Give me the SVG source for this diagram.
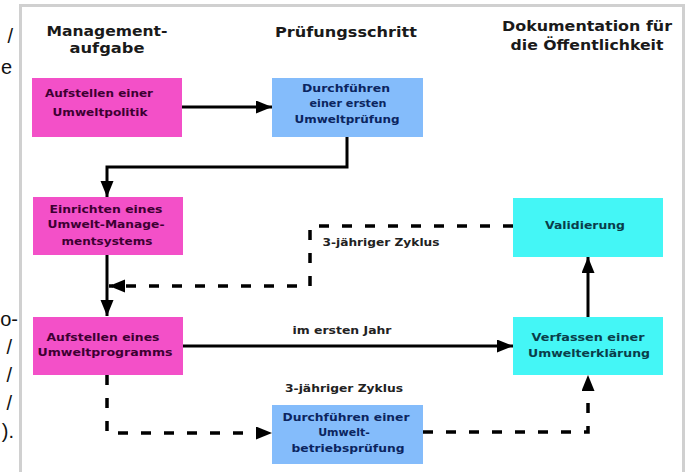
<svg xmlns="http://www.w3.org/2000/svg" width="690" height="472" viewBox="0 0 690 472">
<style>
.frame{fill:none;stroke:#d0d0d0;stroke-width:3}
.frag{font-family:"Liberation Sans",Arial,sans-serif;font-size:20px;fill:#111;text-anchor:end}
.hdr{font-family:"DejaVu Sans",sans-serif;font-weight:bold;font-size:14.5px;fill:#1a1a1a;text-anchor:middle}
.bt{font-family:"DejaVu Sans",sans-serif;font-weight:bold;font-size:11px;text-anchor:middle}
.pink rect{fill:#f350c8}
.pink text{fill:#3d0032}
.blue rect{fill:#84bcfb}
.blue text{fill:#0b2560}
.cyan rect{fill:#44f6f6}
.cyan text{fill:#0a3d4a}
.lbl{font-family:"DejaVu Sans",sans-serif;font-weight:bold;font-size:10.5px;fill:#222;text-anchor:middle}
.solid{fill:none;stroke:#000;stroke-width:3}
.dash{fill:none;stroke:#000;stroke-width:3.5;stroke-dasharray:10 13}
</style>
<defs>
<marker id="ah" markerUnits="userSpaceOnUse" markerWidth="17" markerHeight="14" refX="16" refY="6.5" orient="auto">
<path d="M0,0 L16,6.5 L0,13 z" fill="#000"/>
</marker>
</defs>
<rect width="690" height="472" fill="#fff"/>
<text class="frag" x="13" y="43">/</text>
<text class="frag" x="12" y="74">e</text>
<text class="frag" x="18" y="326">o-</text>
<text class="frag" x="12" y="354">/</text>
<text class="frag" x="12" y="382">/</text>
<text class="frag" x="12" y="410">/</text>
<text class="frag" x="14" y="438">).</text>
<rect class="frame" x="20.5" y="5.5" width="663" height="500"/>
<g id="headers">
<text class="hdr" x="107" y="36" textLength="121" lengthAdjust="spacingAndGlyphs">Management-</text>
<text class="hdr" x="107" y="53" textLength="75" lengthAdjust="spacingAndGlyphs">aufgabe</text>
<text class="hdr" x="346" y="37" textLength="142" lengthAdjust="spacingAndGlyphs">Prüfungsschritt</text>
<text class="hdr" x="587" y="31" textLength="170" lengthAdjust="spacingAndGlyphs">Dokumentation für</text>
<text class="hdr" x="587" y="50" textLength="153" lengthAdjust="spacingAndGlyphs">die Öffentlichkeit</text>
</g>
<g id="connectors">
<path class="solid" d="M182,107 H272" marker-end="url(#ah)"/>
<path class="solid" d="M347,137 V167 H107 V197" marker-end="url(#ah)"/>
<path class="solid" d="M107,255 V316" marker-end="url(#ah)"/>
<path class="dash" d="M513,226 H310 V286 H109" marker-end="url(#ah)"/>
<path class="solid" d="M183,346 H513" marker-end="url(#ah)"/>
<path class="dash" d="M107,375 V433 H272" marker-end="url(#ah)"/>
<path class="dash" d="M423,432 H588 V375" marker-end="url(#ah)"/>
<path class="solid" d="M588,317 V257" marker-end="url(#ah)"/>
<text class="lbl" x="381" y="246" textLength="117" lengthAdjust="spacingAndGlyphs">3-jähriger Zyklus</text>
<text class="lbl" x="342" y="334" textLength="99" lengthAdjust="spacingAndGlyphs">im ersten Jahr</text>
<text class="lbl" x="344" y="392" textLength="118" lengthAdjust="spacingAndGlyphs">3-jähriger Zyklus</text>
</g>
<g id="n1" class="pink">
<rect x="32" y="78" width="150" height="59"/>
<text class="bt" x="99" y="97" textLength="108" lengthAdjust="spacingAndGlyphs">Aufstellen einer</text>
<text class="bt" x="100" y="116" textLength="95" lengthAdjust="spacingAndGlyphs">Umweltpolitik</text>
</g>
<g id="n2" class="blue">
<rect x="272" y="78" width="151" height="59"/>
<text class="bt" x="346" y="92" textLength="88" lengthAdjust="spacingAndGlyphs">Durchführen</text>
<text class="bt" x="348" y="107" textLength="77" lengthAdjust="spacingAndGlyphs">einer ersten</text>
<text class="bt" x="347" y="123" textLength="105" lengthAdjust="spacingAndGlyphs">Umweltprüfung</text>
</g>
<g id="n3" class="pink">
<rect x="33" y="197" width="150" height="58"/>
<text class="bt" x="106" y="213" textLength="113" lengthAdjust="spacingAndGlyphs">Einrichten eines</text>
<text class="bt" x="106" y="228" textLength="117" lengthAdjust="spacingAndGlyphs">Umwelt-Manage-</text>
<text class="bt" x="107" y="245" textLength="91" lengthAdjust="spacingAndGlyphs">mentsystems</text>
</g>
<g id="n4" class="pink">
<rect x="33" y="317" width="150" height="58"/>
<text class="bt" x="103" y="341" textLength="113" lengthAdjust="spacingAndGlyphs">Aufstellen eines</text>
<text class="bt" x="105" y="356" textLength="135" lengthAdjust="spacingAndGlyphs">Umweltprogramms</text>
</g>
<g id="n5" class="blue">
<rect x="272" y="405" width="151" height="59"/>
<text class="bt" x="346" y="421" textLength="127" lengthAdjust="spacingAndGlyphs">Durchführen einer</text>
<text class="bt" x="344" y="436">Umwelt-</text>
<text class="bt" x="348" y="452" textLength="113" lengthAdjust="spacingAndGlyphs">betriebsprüfung</text>
</g>
<g id="n6" class="cyan">
<rect x="513" y="198" width="150" height="59"/>
<text class="bt" x="585" y="229" textLength="80" lengthAdjust="spacingAndGlyphs">Validierung</text>
</g>
<g id="n7" class="cyan">
<rect x="513" y="317" width="150" height="58"/>
<text class="bt" x="588" y="341" textLength="113" lengthAdjust="spacingAndGlyphs">Verfassen einer</text>
<text class="bt" x="589" y="357" textLength="122" lengthAdjust="spacingAndGlyphs">Umwelterklärung</text>
</g>
</svg>
